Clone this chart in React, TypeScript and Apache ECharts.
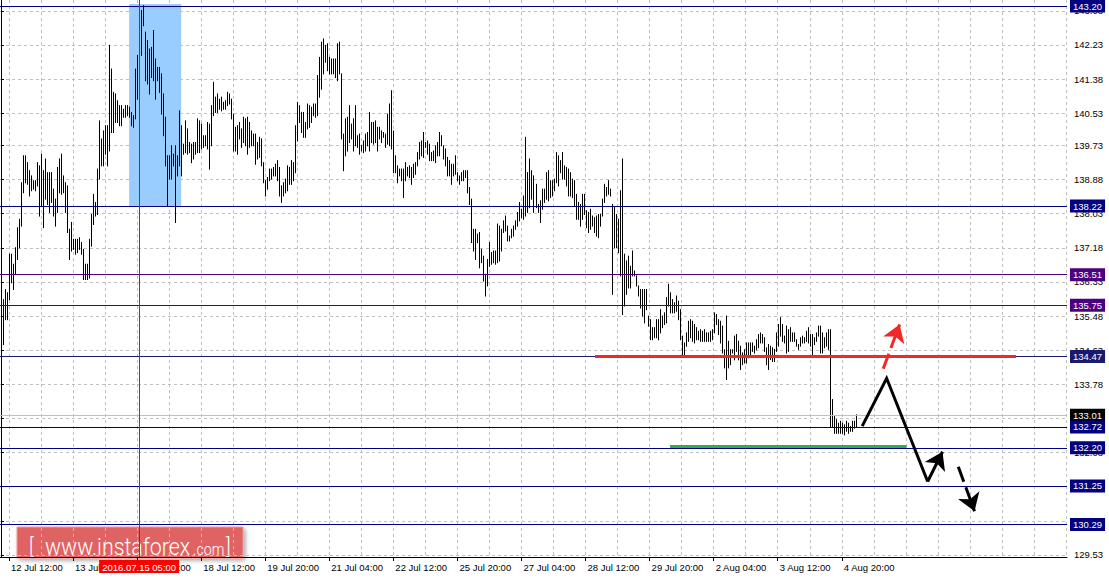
import React, { useEffect, useRef } from "react";
import * as echarts from "echarts";

// ---------- data ----------
const tickLabels = [
  "12 Jul 12:00", "13 Jul 20:00", "15 Jul 04:00", "18 Jul 12:00", "19 Jul 20:00",
  "21 Jul 04:00", "22 Jul 12:00", "25 Jul 20:00", "27 Jul 04:00", "28 Jul 12:00",
  "29 Jul 20:00", "2 Aug 04:00", "3 Aug 12:00", "4 Aug 20:00",
];
const SLOT_COUNT = 533; // hourly slots across the chart (incl. empty future area)
const FIRST_TICK_BAR = 4;
const TICK_EVERY = 32;
const GRID_EVERY = 16;

const barHighs = [
  136.14, 135.89, 136.14, 136.06, 137.02, 137.02, 136.77, 137.18, 137.68, 137.89,
  138.80, 139.47, 139.47, 139.30, 139.10, 138.97, 138.85, 138.85, 139.30, 139.22,
  139.51, 139.10, 139.39, 139.05, 139.05, 139.05, 138.64, 138.39, 139.18, 139.39,
  139.51, 138.97, 138.80, 138.72, 137.64, 137.81, 137.39, 137.39, 137.39, 137.43,
  137.31, 137.14, 136.77, 136.77, 137.39, 138.01, 138.51, 138.31, 139.14, 140.34,
  139.89, 140.09, 140.22, 140.22, 142.22, 141.63, 141.05, 141.01, 140.84, 140.72,
  140.72, 140.63, 140.72, 140.72, 140.68, 140.55, 140.47, 141.63, 141.97, 143.09,
  143.09, 143.21, 142.55, 142.34, 142.13, 142.17, 142.59, 141.88, 141.67, 141.67,
  141.51, 141.01, 140.43, 139.47, 139.47, 139.72, 139.51, 139.72, 139.47, 140.59,
  140.22, 139.76, 140.34, 140.14, 139.80, 139.76, 139.80, 139.80, 140.39, 140.34,
  140.26, 139.97, 139.97, 140.30, 140.26, 140.72, 141.30, 140.93, 141.01, 140.88,
  140.93, 140.80, 140.84, 141.05, 141.01, 140.88, 140.51, 140.18, 140.22, 140.30,
  140.14, 140.43, 140.39, 140.43, 140.30, 140.09, 140.01, 140.01, 139.80, 139.93,
  139.89, 139.30, 138.85, 138.93, 139.14, 139.14, 139.18, 139.26, 139.35, 139.18,
  138.72, 138.80, 138.89, 139.22, 139.18, 139.35, 139.30, 140.22, 140.80, 140.72,
  140.55, 140.55, 140.30, 140.76, 140.72, 140.68, 140.76, 140.76, 141.47, 141.92,
  142.30, 142.38, 142.22, 142.26, 141.92, 141.88, 141.88, 141.88, 142.26, 142.30,
  141.51, 140.01, 140.39, 140.43, 140.72, 140.26, 140.39, 140.72, 139.97, 140.01,
  139.72, 139.84, 140.01, 140.05, 140.55, 140.30, 140.30, 140.34, 140.18, 140.18,
  140.09, 140.05, 140.01, 140.51, 140.76, 141.09, 140.09, 139.47, 139.22, 139.14,
  139.14, 139.14, 139.30, 139.18, 139.22, 139.18, 139.26, 139.30, 139.55, 139.80,
  139.84, 140.05, 139.80, 139.84, 139.76, 139.55, 139.59, 139.72, 139.80, 140.05,
  139.97, 139.72, 139.64, 139.43, 139.35, 139.26, 139.26, 139.47, 139.05, 138.97,
  139.05, 139.10, 139.10, 139.10, 138.68, 138.39, 137.64, 137.64, 137.52, 137.56,
  137.14, 136.97, 136.52, 136.89, 137.31, 137.06, 137.10, 137.10, 137.77, 137.72,
  137.64, 137.85, 137.97, 137.72, 137.47, 137.64, 137.72, 137.85, 138.06, 138.31,
  138.14, 138.47, 139.93, 139.05, 139.39, 139.10, 138.97, 138.76, 138.26, 138.35,
  138.64, 138.64, 139.05, 139.10, 138.85, 138.85, 138.89, 139.55, 139.47, 139.35,
  139.55, 139.22, 139.18, 139.14, 139.05, 138.89, 138.85, 138.51, 138.31, 138.26,
  138.51, 138.51, 138.10, 138.06, 138.14, 137.97, 137.93, 137.97, 138.01, 138.01,
  138.39, 138.76, 138.68, 138.85, 138.64, 138.26, 138.18, 138.01, 137.89, 138.60,
  139.39, 137.02, 136.85, 136.97, 136.72, 137.10, 136.60, 136.48, 136.23, 136.14,
  136.14, 136.14, 136.14, 135.48, 135.39, 135.19, 135.19, 135.39, 135.39, 135.64,
  135.48, 135.56, 135.94, 136.27, 136.06, 135.89, 135.81, 135.98, 135.85, 135.64,
  134.98, 134.81, 135.06, 135.35, 135.39, 135.35, 135.27, 135.19, 135.10, 135.14,
  135.10, 135.14, 135.06, 135.06, 135.10, 135.14, 135.56, 135.52, 135.39, 135.35,
  135.23, 134.64, 135.48, 134.85, 134.64, 134.64, 134.98, 135.02, 134.85, 134.73,
  134.56, 134.64, 134.81, 134.81, 134.81, 134.81, 134.73, 134.89, 135.02, 135.06,
  135.02, 134.94, 134.69, 134.77, 134.73, 134.69, 134.65, 135.06, 135.27, 135.44,
  135.27, 134.98, 135.23, 135.14, 135.19, 135.06, 135.06, 134.89, 134.77, 134.94,
  134.98, 134.94, 135.10, 135.19, 135.02, 135.02, 134.94, 135.06, 135.23, 135.23,
  135.06, 134.94, 135.06, 135.14, 135.14, 133.40, 132.98, 132.90, 132.81, 132.86,
  132.81, 132.77, 132.86, 132.81, 132.73, 132.86, 132.86, 133.02,
];

const barLows = [
  134.60, 134.77, 135.39, 135.39, 135.89, 136.31, 136.14, 136.52, 136.89, 137.18,
  137.72, 138.55, 138.80, 138.76, 138.47, 138.60, 138.64, 138.60, 138.72, 137.97,
  138.22, 137.68, 138.39, 138.26, 138.06, 138.31, 137.97, 137.72, 138.06, 138.55,
  138.51, 138.55, 138.06, 137.56, 136.89, 137.10, 137.14, 137.02, 137.06, 137.14,
  137.02, 136.39, 136.39, 136.39, 136.43, 137.22, 137.76, 137.97, 138.01, 138.89,
  139.22, 139.22, 139.51, 139.22, 139.59, 140.05, 140.05, 140.30, 140.30, 140.22,
  140.22, 140.43, 140.43, 140.47, 140.43, 140.22, 140.18, 140.39, 140.88, 140.88,
  141.97, 142.71, 141.34, 141.26, 141.01, 141.42, 141.34, 140.88, 141.34, 141.05,
  140.51, 139.97, 139.22, 138.22, 138.89, 138.89, 139.22, 137.81, 138.97, 139.22,
  138.97, 139.51, 139.55, 139.51, 139.55, 139.30, 139.39, 139.51, 139.55, 139.55,
  139.64, 139.68, 139.72, 139.64, 139.14, 139.72, 140.47, 140.55, 140.55, 140.63,
  140.59, 140.63, 140.63, 140.72, 140.76, 140.39, 139.59, 139.59, 139.51, 139.89,
  139.68, 139.80, 139.72, 139.51, 139.68, 139.72, 139.72, 139.26, 139.39, 139.43,
  139.22, 138.80, 138.47, 138.64, 138.85, 138.89, 138.97, 138.97, 138.85, 138.47,
  138.31, 138.47, 138.55, 138.60, 138.76, 138.76, 138.85, 139.05, 139.84, 140.30,
  140.05, 139.93, 139.93, 140.14, 140.18, 140.30, 140.47, 140.43, 140.47, 140.93,
  141.13, 141.51, 141.80, 141.59, 141.51, 141.51, 141.51, 141.42, 141.34, 141.51,
  139.89, 139.10, 139.47, 139.59, 139.80, 139.89, 139.59, 139.72, 139.68, 139.51,
  139.59, 139.55, 139.59, 139.72, 139.59, 139.80, 139.76, 139.80, 139.59, 139.89,
  139.80, 139.93, 139.68, 139.76, 139.72, 139.64, 139.05, 139.05, 138.80, 138.97,
  138.85, 138.43, 138.85, 138.97, 138.93, 138.76, 138.93, 139.01, 139.22, 139.39,
  139.47, 139.43, 139.68, 139.51, 139.35, 139.35, 139.35, 139.30, 139.47, 139.47,
  139.72, 139.39, 139.22, 138.97, 138.97, 138.76, 138.97, 139.01, 138.85, 138.76,
  138.85, 138.85, 138.93, 138.55, 138.26, 137.31, 137.10, 136.89, 137.31, 136.68,
  136.81, 136.35, 135.98, 136.23, 136.72, 136.77, 136.81, 136.77, 136.81, 136.85,
  137.10, 137.56, 137.60, 137.35, 137.35, 137.43, 137.47, 137.64, 137.72, 137.85,
  137.93, 137.89, 137.97, 138.06, 138.18, 138.39, 138.06, 138.18, 138.06, 137.81,
  138.14, 138.31, 138.39, 138.35, 138.43, 138.47, 138.60, 138.80, 138.72, 139.05,
  138.89, 138.89, 138.72, 138.47, 138.47, 138.43, 138.22, 137.89, 137.89, 137.72,
  137.89, 138.01, 137.68, 137.56, 137.64, 137.72, 137.56, 137.47, 137.43, 137.72,
  137.97, 138.31, 138.47, 138.51, 138.47, 136.02, 137.18, 137.18, 137.06, 136.48,
  135.52, 135.73, 136.02, 136.18, 136.18, 136.48, 136.48, 136.23, 135.98, 135.68,
  135.48, 135.31, 135.64, 135.23, 134.89, 134.89, 134.94, 134.94, 134.89, 135.06,
  135.19, 135.27, 135.31, 135.73, 135.56, 135.56, 135.56, 135.60, 135.39, 134.89,
  134.52, 134.52, 134.73, 134.85, 134.94, 134.85, 134.81, 134.89, 134.89, 134.85,
  134.85, 134.85, 134.85, 134.85, 134.85, 134.89, 135.06, 135.27, 135.02, 134.81,
  134.56, 134.19, 133.90, 134.19, 134.27, 134.56, 134.39, 134.60, 134.39, 134.15,
  134.27, 134.31, 134.31, 134.44, 134.52, 134.60, 134.56, 134.64, 134.69, 134.81,
  134.81, 134.60, 134.27, 134.15, 134.40, 134.35, 134.35, 134.60, 134.73, 134.98,
  134.85, 134.81, 134.56, 134.60, 134.85, 134.85, 134.85, 134.73, 134.65, 134.73,
  134.81, 134.81, 134.85, 134.81, 134.73, 134.52, 134.77, 134.85, 134.98, 134.56,
  134.56, 134.69, 134.73, 134.65, 132.73, 132.73, 132.56, 132.56, 132.56, 132.56,
  132.56, 132.52, 132.61, 132.56, 132.61, 132.61, 132.69, 132.73,
];

const priceTicks = [
  143.08, 142.23, 141.38, 140.53, 139.73, 138.88, 138.03, 137.18, 136.33,
  135.48, 134.63, 133.78, 132.93, 132.08, 131.23, 130.38, 129.53,
];
const PRICE_MIN = 129.48;
const PRICE_MAX = 143.35;

const levelPrices = [143.2, 138.22, 136.51, 135.75, 134.47, 132.72, 132.2, 131.25, 130.29];
const bidPrice = 133.01;
const cursorBar = 69;
const cursorLabel = "2016.07.15 05:00";
const highlightZone = [64, 90, 138.22, 143.25]; // bar from, bar to, price low, price high

const resistanceSegment = [[296.7, 134.47], [507.0, 134.47]];
const supportSegment = [[334.2, 132.24], [452.4, 132.24]];
const forecastPath = [[430.2, 132.74], [442.4, 133.93], [462.9, 131.36]];
const forecastRebound = [[462.9, 131.36], [470.3, 132.1]];
const breakoutArrow = [[440.7, 134.17], [448.9, 135.27]];
const breakdownArrow = [[478.2, 131.73], [486.3, 130.62]];

// ---------- styling ----------
const FONT = "'Liberation Sans', Arial, sans-serif";
const LOGO_FONT = "Roboto, 'Liberation Sans', sans-serif";
const levelColors = ["#000080", "#000080", "#4B0082", "#4B0082", "#191970", "#000080", "#000080", "#000080", "#000080"];

function buildOption(): any {
  const lastBar = barHighs.length - 1;
  const categories = Array.from({ length: SLOT_COUNT }, (_, i) => String(i));
  const isTick = (i: number) => i >= FIRST_TICK_BAR && i <= lastBar && (i - FIRST_TICK_BAR) % TICK_EVERY === 0;
  const isGrid = (i: number) => i >= FIRST_TICK_BAR && (i - FIRST_TICK_BAR) % GRID_EVERY === 0;
  const bars = barHighs.map((h, i) => [i, barLows[i], h]);

  const boxLabel = (text: string, bg: string) => ({
    show: true,
    position: "end",
    distance: 3,
    formatter: text,
    color: "#fff",
    backgroundColor: bg,
    padding: [2, 3, 1, 3],
    fontSize: 9.5,
    fontFamily: FONT,
  });

  const levelMarks: any[] = levelPrices.map((p, k) => ({
    yAxis: p,
    lineStyle: { color: levelColors[k], width: 1, type: "solid" },
    label: boxLabel(p.toFixed(2), levelColors[k]),
  }));
  levelMarks.unshift({
    yAxis: bidPrice,
    lineStyle: { color: "#C0C0C0", width: 1, type: "solid" },
    label: boxLabel(bidPrice.toFixed(2), "#000000"),
  });
  levelMarks.push({
    xAxis: cursorBar,
    lineStyle: { color: "#FF0000", width: 1, type: "solid" },
    label: {
      show: true,
      position: "start",
      distance: 3,
      formatter: cursorLabel,
      color: "#fff",
      backgroundColor: "#FF0000",
      padding: [2, 3, 1, 3],
      fontSize: 9.5,
      fontFamily: FONT,
    },
  });

  const arrowSeries = (coords: number[][], color: string, dashed: boolean) => ({
    type: "lines",
    coordinateSystem: "cartesian2d",
    xAxisIndex: 1,
    yAxisIndex: 0,
    z: 7,
    silent: true,
    symbol: ["none", "arrow"],
    symbolSize: [0, 17],
    itemStyle: { color },
    lineStyle: { color, width: 3, opacity: 1, curveness: 0, type: dashed ? [16, 6] : "solid" },
    data: [{ coords }],
  });

  const logoText = (text: string, x: number, y: number, size: number) => ({
    type: "text",
    x,
    y,
    scaleX: 0.89,
    style: { text, fill: "#fff", fontSize: size, fontFamily: LOGO_FONT, fontWeight: 300, verticalAlign: "bottom" },
  });

  return {
    animation: false,
    backgroundColor: "#ffffff",
    textStyle: { fontFamily: FONT },
    grid: { left: 0, right: 42, top: 0, bottom: 22, containLabel: false, outerBoundsMode: "none" },
    xAxis: [
      {
        type: "category",
        data: categories,
        boundaryGap: true,
        position: "bottom",
        axisLine: { show: true, onZero: false, lineStyle: { color: "#000", width: 1 } },
        axisTick: { show: true, alignWithLabel: true, interval: (i: number) => isTick(i), length: 4, lineStyle: { color: "#000" } },
        axisLabel: {
          show: true,
          interval: (i: number) => isTick(i),
          formatter: (_v: string, i: number) => tickLabels[(i - FIRST_TICK_BAR) / TICK_EVERY] ?? "",
          align: "left",
          margin: 5,
          padding: [0, 0, 0, 2],
          color: "#000",
          fontSize: 9.5,
          fontFamily: FONT,
        },
        splitLine: {
          show: true,
          alignWithLabel: true,
          interval: (i: number) => isGrid(i),
          lineStyle: { color: "#C0C0C0", type: [3, 3], width: 1 },
        },
      },
      { type: "value", min: -0.5, max: SLOT_COUNT - 0.5, show: false, splitLine: { show: false } },
    ],
    yAxis: {
      type: "value",
      position: "right",
      min: PRICE_MIN,
      max: PRICE_MAX,
      axisLine: { show: true, lineStyle: { color: "#000", width: 1 } },
      axisTick: { show: true, customValues: priceTicks, length: 3, lineStyle: { color: "#000" } },
      axisLabel: {
        customValues: priceTicks,
        formatter: (v: number) => v.toFixed(2),
        color: "#000",
        fontSize: 9.5,
        fontFamily: FONT,
        margin: 7,
      },
      splitLine: { show: true, lineStyle: { color: "#C0C0C0", type: [3, 3], width: 1 } },
    },
    series: [
      {
        type: "custom",
        name: "zone",
        xAxisIndex: 1,
        yAxisIndex: 0,
        z: 1,
        silent: true,
        data: [highlightZone],
        renderItem: (_p: any, api: any) => {
          const a = api.coord([api.value(0), api.value(3)]);
          const b = api.coord([api.value(1), api.value(2)]);
          return {
            type: "rect",
            shape: { x: a[0], y: a[1], width: b[0] - a[0], height: b[1] - a[1] },
            style: { fill: "#99CCFF" },
          };
        },
      },
      {
        type: "custom",
        name: "bars",
        xAxisIndex: 1,
        yAxisIndex: 0,
        z: 3,
        silent: true,
        data: bars,
        encode: { x: 0, y: [1, 2] },
        renderItem: (_p: any, api: any) => {
          const lo = api.coord([api.value(0), api.value(1)]);
          const hi = api.coord([api.value(0), api.value(2)]);
          const x = Math.round(lo[0]) + 0.5;
          return {
            type: "line",
            shape: { x1: x, y1: lo[1] + 0.5, x2: x, y2: hi[1] - 0.5 },
            style: { stroke: "#000", lineWidth: 1 },
          };
        },
        markLine: {
          silent: true,
          symbol: "none",
          animation: false,
          z: 5,
          data: levelMarks,
        },
      },
      {
        type: "lines",
        coordinateSystem: "cartesian2d",
        xAxisIndex: 1,
        yAxisIndex: 0,
        z: 6,
        silent: true,
        lineStyle: { width: 3, opacity: 1, curveness: 0 },
        data: [
          { coords: resistanceSegment, lineStyle: { color: "#F02828", width: 3, opacity: 1 } },
          { coords: supportSegment, lineStyle: { color: "#2DB04A", width: 3, opacity: 1 } },
        ],
      },
      {
        type: "lines",
        coordinateSystem: "cartesian2d",
        xAxisIndex: 1,
        yAxisIndex: 0,
        polyline: true,
        z: 7,
        silent: true,
        lineStyle: { color: "#000", width: 3, opacity: 1, curveness: 0 },
        data: [{ coords: forecastPath }],
      },
      arrowSeries(forecastRebound, "#000000", false),
      arrowSeries(breakoutArrow, "#F02828", true),
      arrowSeries(breakdownArrow, "#000000", true),
    ],
    graphic: [
      {
        type: "group",
        x: 17,
        y: 527,
        silent: true,
        z: 100,
        children: [
          {
            type: "rect",
            shape: { x: 0, y: 0, width: 226, height: 31 },
            style: {
              fill: "#DF6464",
              stroke: "#EE9A9A",
              lineWidth: 1,
              shadowBlur: 4,
              shadowColor: "rgba(0,0,0,0.35)",
              shadowOffsetX: 2,
              shadowOffsetY: 2,
            },
          },
          logoText("[", 12, 31, 22),
          logoText("www.instaforex", 28, 32, 24),
          logoText(".com", 176, 31, 16),
          logoText("]", 209, 31, 22),
        ],
      },
    ],
  };
}

export default function App() {
  const ref = useRef<HTMLDivElement>(null);
  useEffect(() => {
    if (!ref.current) return;
    const chart = echarts.init(ref.current, undefined, { renderer: "svg" });
    chart.setOption(buildOption());
    return () => chart.dispose();
  }, []);
  return (
    <div
      ref={ref}
      style={{ position: "fixed", left: 0, top: 0, width: 1109, height: 579, background: "#fff" }}
    />
  );
}
